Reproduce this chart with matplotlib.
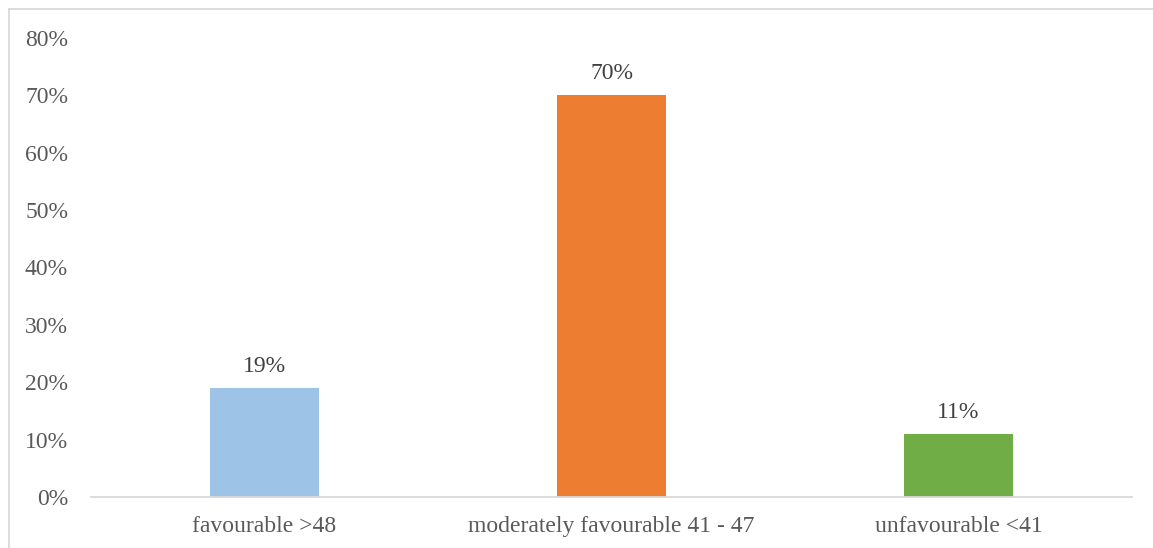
import matplotlib
matplotlib.use("Agg")
import matplotlib.pyplot as plt
from matplotlib.lines import Line2D

categories = ["favourable >48", "moderately favourable 41 - 47", "unfavourable <41"]
values = [19, 70, 11]
colors = ["#9DC3E6", "#ED7D31", "#70AD47"]
yticks = [0, 10, 20, 30, 40, 50, 60, 70, 80]

plt.rcParams['font.family'] = ['Liberation Serif', 'DejaVu Serif']

fig = plt.figure(figsize=(11.53, 5.48), dpi=100)
ax = fig.add_axes([91/1153, 1-497/548, (1132-91)/1153, (497-38)/548])

x = list(range(len(categories)))
ax.bar(x, values, width=0.314, color=colors, zorder=2)
for xi, v in zip(x, values):
    ax.text(xi, v + 1.95, f"{v}%", ha="center", va="bottom", fontsize=17, color="#404040")

ax.set_xlim(-0.5, 2.5)
ax.set_ylim(0, 80)
ax.set_yticks(yticks)
ax.set_yticklabels([f"{t}%" for t in yticks], fontsize=17, color="#595959")
ax.set_xticks(x)
ax.set_xticklabels(categories, fontsize=17, color="#595959")
ax.tick_params(axis="both", length=0)
ax.tick_params(axis="y", pad=16.5)
ax.tick_params(axis="x", pad=13.5)
for s in ["top", "right", "left"]:
    ax.spines[s].set_visible(False)
ax.spines["bottom"].set_color("#D9D9D9")
ax.spines["bottom"].set_linewidth(1.3)

# outer chart border (left and top visible)
fig.add_artist(Line2D([9/1153, 9/1153], [0, 1-9/548], transform=fig.transFigure, color="#D9D9D9", lw=1.3))
fig.add_artist(Line2D([9/1153, 1], [1-9/548, 1-9/548], transform=fig.transFigure, color="#D9D9D9", lw=1.3))

fig.savefig("out.png", dpi=100)
